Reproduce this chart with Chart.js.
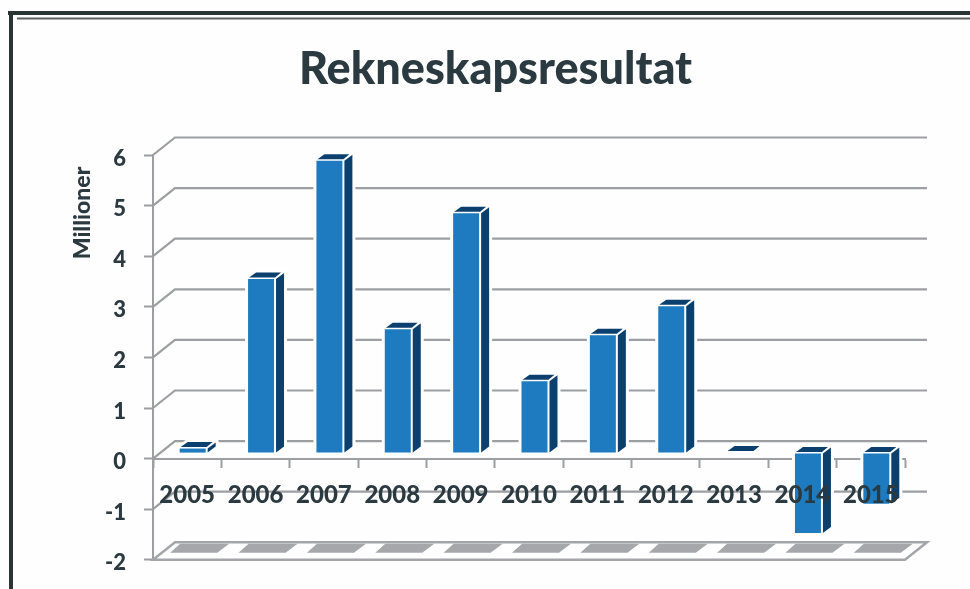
<!DOCTYPE html>
<html>
<head>
<meta charset="utf-8">
<style>html,body{margin:0;padding:0;background:#fff;overflow:hidden;height:589px}canvas{display:block}</style>
<script src="https://cdn.jsdelivr.net/npm/chart.js@4"></script>
</head>
<body>
<canvas id="c" width="970" height="591"></canvas>
<script>
const categories = ["2005","2006","2007","2008","2009","2010","2011","2012","2013","2014","2015"];
const resultat = [0.09,3.44,5.78,2.45,4.74,1.42,2.33,2.9,0.01,-1.58,-1.0];
const titleText = "Rekneskapsresultat";
const yAxisTitle = "Millioner";
const yMin = -2, yMax = 6;

const GRID = "#9c9ea1", INK = "#2b3940", FRONT = "#1f7bbf", DARK = "#0b3f6e";
const DX = 22, DY = 17.5;

function poly(ctx, pts){
  ctx.beginPath();
  pts.forEach((p,i)=> i ? ctx.lineTo(p[0],p[1]) : ctx.moveTo(p[0],p[1]));
  ctx.closePath();
}

const look3d = {
  id: "look3d",
  beforeDraw(chart){
    const ctx = chart.ctx;
    ctx.save();
    ctx.fillStyle = "#fefefe";
    ctx.fillRect(0,0,970,591);
    ctx.fillStyle = "#2a3533";
    ctx.fillRect(8,11,962,4);
    ctx.fillRect(9,11,4,580);
    ctx.fillStyle = "#5a5f5f";
    ctx.fillRect(17,17.5,953,2);
    ctx.restore();
  },
  beforeDatasetsDraw(chart){
    const ctx = chart.ctx, y = chart.scales.y, x = chart.scales.x;
    const L = x.left, R = x.right;
    ctx.save();
    // floor
    const fy = y.getPixelForValue(yMin);
    poly(ctx, [[L,fy],[R,fy],[R+DX,fy-DY],[L+DX,fy-DY]]);
    ctx.fillStyle = "#ffffff"; ctx.fill();
    ctx.strokeStyle = "#a3a5a8"; ctx.lineWidth = 2.5; ctx.stroke();
    // floor shadows, one per category
    categories.forEach((_,i)=>{
      const c = x.getPixelForValue(i);
      poly(ctx, [[c-17,fy-7],[c-7,fy-16],[c+42,fy-16],[c+30,fy-7]]);
      ctx.fillStyle = "#a5a7aa"; ctx.fill();
    });
    // back wall grid lines
    ctx.strokeStyle = GRID; ctx.lineWidth = 2.2;
    y.ticks.forEach(t=>{
      if (t.value === yMin) return;
      const p = y.getPixelForValue(t.value);
      ctx.beginPath();
      ctx.moveTo(L,p); ctx.lineTo(L+DX,p-DY); ctx.lineTo(R+DX,p-DY);
      ctx.stroke();
    });
    ctx.restore();
    // bars sit a little into the depth of the floor
    ctx.save();
    ctx.translate(5.5,-5.5);
    const els = chart.getDatasetMeta(0).data;
    els.forEach(el=>{
      const l = el.x-el.width/2, r = el.x+el.width/2;
      const t = Math.min(el.y,el.base), b = Math.max(el.y,el.base);
      poly(ctx, [[l,t],[l+8,t-6.5],[r+10,t-6.5],[r+10,b-6],[r,b],[l,b]]);
      ctx.strokeStyle = "#ffffff"; ctx.lineWidth = 6; ctx.lineJoin = "round"; ctx.stroke();
      ctx.fillStyle = "#ffffff"; ctx.fill();
      poly(ctx, [[r+2,t],[r+10,t-6],[r+10,b-6],[r+2,b]]);
      ctx.fillStyle = DARK; ctx.fill();
      poly(ctx, [[l+1,t-1.5],[r+1,t-1.5],[r+7,t-6.5],[l+8,t-6.5]]);
      ctx.fillStyle = DARK; ctx.fill();
    });
  },
  afterDatasetsDraw(chart){
    chart.ctx.restore();
  },
  afterDraw(chart){
    const ctx = chart.ctx;
    ctx.save();
    ctx.translate(83,213);
    ctx.rotate(-Math.PI/2);
    ctx.font = "900 23px Lato";
    ctx.fillStyle = INK;
    ctx.textAlign = "center";
    ctx.textBaseline = "middle";
    ctx.fillText(yAxisTitle,0,0);
    ctx.restore();
  }
};

new Chart(document.getElementById("c"), {
  type: "bar",
  data: {
    labels: categories,
    datasets: [{
      data: resultat,
      backgroundColor: FRONT,
      borderWidth: 0,
      categoryPercentage: 1,
      barPercentage: 0.38,
      clip: false
    }]
  },
  options: {
    responsive: false,
    animation: false,
    layout: { autoPadding: false, padding: { left: 86, right: 65, top: 0, bottom: 29 } },
    plugins: {
      legend: { display: false },
      tooltip: { enabled: false },
      title: {
        display: true,
        text: titleText,
        color: INK,
        font: { family: "Lato", weight: "900", size: 45, lineHeight: 1 },
        padding: { top: 47, bottom: 63 },
        align: "center",
        fullSize: true
      }
    },
    scales: {
      x: {
        position: { y: 0 },
        offset: true,
        border: { color: GRID, width: 2 },
        grid: { drawOnChartArea: false, drawTicks: true, tickLength: 8, tickColor: GRID, tickWidth: 2 },
        ticks: {
          z: 1, color: INK, maxRotation: 0, autoSkip: false, padding: 14,
          font: { family: "Lato", weight: "900", size: 24 }
        }
      },
      y: {
        min: yMin,
        max: yMax,
        afterFit(s){ s.width = 67; },
        border: { color: GRID, width: 2 },
        grid: { drawOnChartArea: false, drawTicks: true, tickLength: 9, tickColor: GRID, tickWidth: 2 },
        ticks: {
          stepSize: 1, color: INK, padding: 18, labelOffset: 3.5,
          font: { family: "Lato", weight: "900", size: 22 }
        }
      }
    }
  },
  plugins: [look3d]
});
</script>
</body>
</html>
